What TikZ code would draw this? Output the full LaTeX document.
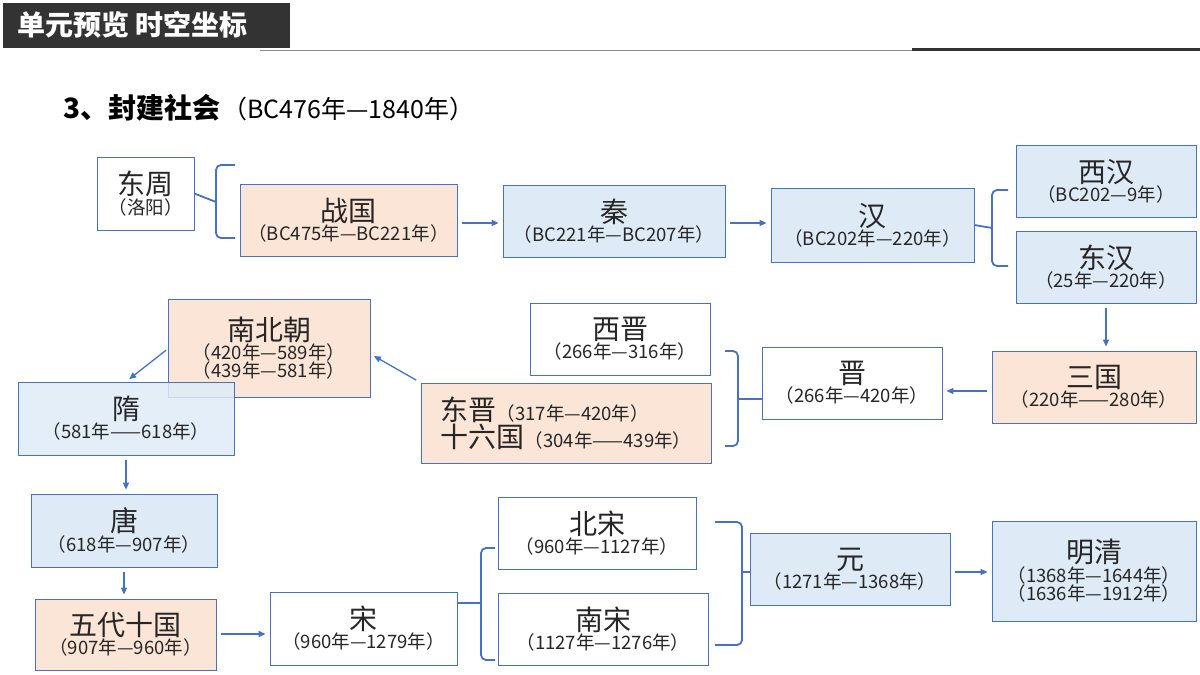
\documentclass[tikz,border=0pt]{standalone}
\usepackage{fontspec}
\setmainfont{Noto Sans CJK SC}
\usetikzlibrary{arrows.meta}
\definecolor{bline}{RGB}{68,114,196}
\definecolor{orfill}{RGB}{251,229,214}
\definecolor{blfill}{RGB}{222,235,247}
\newcommand{\bigtxt}[1]{{\fontsize{28}{32}\selectfont #1}}
\newcommand{\smltxt}[1]{{\fontsize{18.5}{23}\selectfont #1}}
\tikzset{
  box/.style={draw=bline, line width=0.8pt, inner sep=1pt, align=center, text=black!85},
  org/.style={box, fill=orfill},
  blu/.style={box, fill=blfill},
  wht/.style={box, fill=white},
  arr/.style={draw=bline, line width=1.3pt, -{Triangle[length=7pt,width=6pt]}, shorten >=4pt, shorten <=5pt},
  brc/.style={draw=bline, line width=1.8pt, rounded corners=5pt},
}
\begin{document}
\begin{tikzpicture}[x=1pt,y=-1pt]
\useasboundingbox (0,0) rectangle (1200,675);
% header
\fill[black!80] (3,3) rectangle (290,48);
\node[text=white, anchor=west] (head) at (14,25) {\fontsize{28}{32}\selectfont\bfseries 单元预览\ 时空坐标};
\draw[black!45, line width=1pt] (260,50.5) -- (1200,50.5);
\draw[black!80, line width=3pt] (912,49) -- (1200,49);
\node[anchor=west] (title) at (60,108) {{\fontsize{28}{32}\selectfont\bfseries 3、封建社会}\,{\fontsize{25}{29}\selectfont（BC476年—1840年）}};

% boxes
\node[wht, minimum width=97pt, minimum height=73pt] (dz) at (145.5,193.5) {\bigtxt{东周}\\\smltxt{（洛阳）}};
\node[org, minimum width=217pt, minimum height=72pt] (zg) at (348.5,220) {\bigtxt{战国}\\\smltxt{（BC475年—BC221年）}};
\node[blu, minimum width=222pt, minimum height=72pt] (qin) at (614,221) {\bigtxt{秦}\\\smltxt{（BC221年—BC207年）}};
\node[blu, minimum width=203pt, minimum height=74pt] (han) at (872.5,225) {\bigtxt{汉}\\\smltxt{（BC202年—220年）}};
\node[blu, minimum width=180pt, minimum height=72pt] (xh) at (1106,181) {\bigtxt{西汉}\\\smltxt{（BC202—9年）}};
\node[blu, minimum width=180pt, minimum height=72pt] (dh) at (1106,267) {\bigtxt{东汉}\\\smltxt{（25年—220年）}};
\node[org, minimum width=204pt, minimum height=72pt] (sg) at (1094,387) {\bigtxt{三国}\\\smltxt{（220年——280年）}};
\node[wht, minimum width=180pt, minimum height=72pt] (jin) at (852,383) {\bigtxt{晋}\\\smltxt{（266年—420年）}};
\node[wht, minimum width=180pt, minimum height=72pt] (xj) at (620,339) {\bigtxt{西晋}\\\smltxt{（266年—316年）}};
\node[org, minimum width=290pt, minimum height=80pt, align=left] (dj) at (566,423) {\bigtxt{东晋}\smltxt{（317年—420年）}\\\bigtxt{十六国}\smltxt{（304年——439年）}};
\node[org, minimum width=202pt, minimum height=98pt] (nbc) at (269,348) {\bigtxt{南北朝}\\\smltxt{（420年—589年）}\\\smltxt{（439年—581年）}};
\node[blu, minimum width=216pt, minimum height=73pt, fill opacity=0.85, text opacity=1] (sui) at (126,418.5) {\bigtxt{隋}\\\smltxt{（581年——618年）}};
\node[blu, minimum width=186pt, minimum height=73pt] (tang) at (124,530.5) {\bigtxt{唐}\\\smltxt{（618年—907年）}};
\node[org, minimum width=181pt, minimum height=71pt] (wd) at (125.5,634.5) {\bigtxt{五代十国}\\\smltxt{（907年—960年）}};
\node[wht, minimum width=187pt, minimum height=73pt] (song) at (363.5,628.5) {\bigtxt{宋}\\\smltxt{（960年—1279年）}};
\node[wht, minimum width=198pt, minimum height=72pt] (bs) at (597,533) {\bigtxt{北宋}\\\smltxt{（960年—1127年）}};
\node[wht, minimum width=210pt, minimum height=72pt] (ns) at (603,629) {\bigtxt{南宋}\\\smltxt{（1127年—1276年）}};
\node[blu, minimum width=200pt, minimum height=72pt] (yuan) at (850,569) {\bigtxt{元}\\\smltxt{（1271年—1368年）}};
\node[blu, minimum width=204pt, minimum height=100pt] (mq) at (1094,571) {\bigtxt{明清}\\\smltxt{（1368年—1644年）}\\\smltxt{（1636年—1912年）}};

% braces
\draw[brc] (235,165) -- (216,165) -- (216,238) -- (235,238);
\draw[brc] (dz.east) -- (216,202);
\draw[brc] (1008,190) -- (992,190) -- (992,266) -- (1008,266);
\draw[brc] (han.east) -- (992,228);
\draw[brc] (725,351) -- (738,351) -- (738,446) -- (725,446);
\draw[brc] (738,399) -- (jin.west|-738,399);
\draw[brc] (495,548) -- (481,548) -- (481,660) -- (495,660);
\draw[brc] (song.east|-481,603) -- (481,603);
\draw[brc] (715,522) -- (742,522) -- (742,645) -- (715,645);
\draw[brc] (742,572) -- (yuan.west|-742,572);

% arrows
\draw[arr] (zg.east|-0,223) -- (qin.west|-0,223);
\draw[arr] (qin.east|-0,223) -- (han.west|-0,223);
\draw[arr] (dh.south) -- (sg.north-|dh.south);
\draw[arr] (sg.west|-0,391) -- (jin.east|-0,391);
\draw[arr] (dj.north west) -- (nbc.east|-0,354);
\draw[arr, shorten <=2pt] (nbc.west|-0,349) -- (sui.north);
\draw[arr] (sui.south) -- (tang.north-|sui.south);
\draw[arr] (tang.south) -- (wd.north-|tang.south);
\draw[arr] (wd.east|-0,634) -- (song.west|-0,634);
\draw[arr] (yuan.east|-0,572) -- (mq.west|-0,572);
\end{tikzpicture}
\end{document}
